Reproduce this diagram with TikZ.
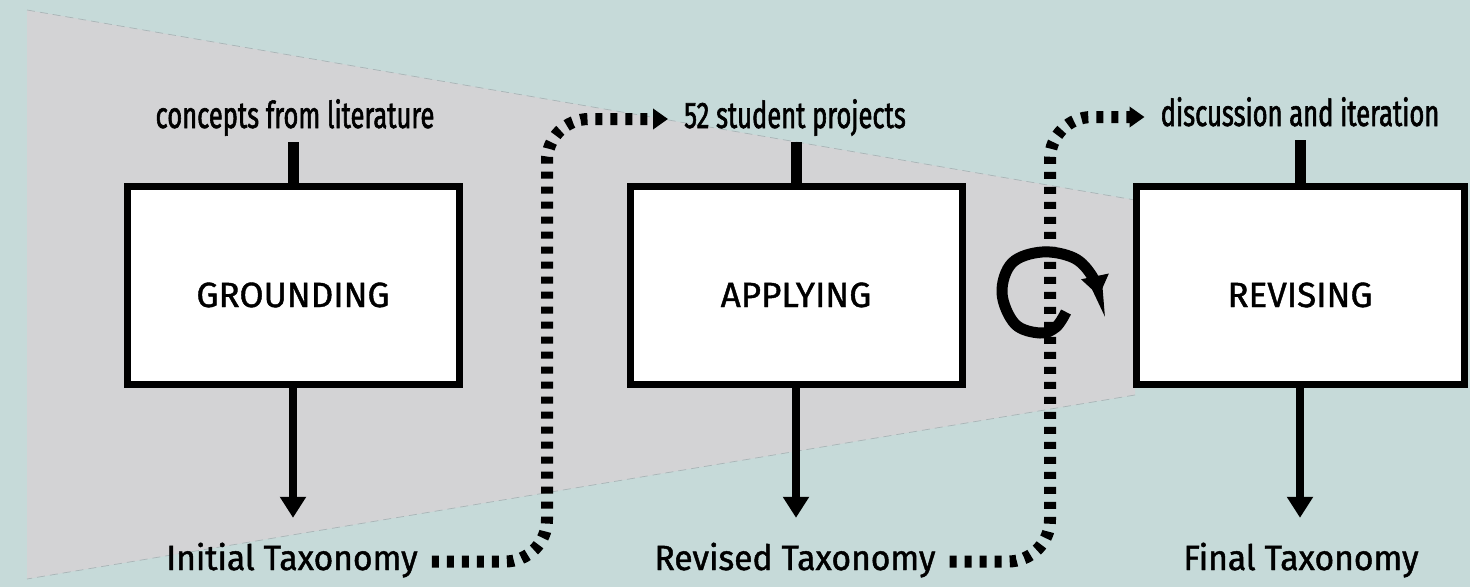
\documentclass[tikz,border=0pt]{standalone}
\usepackage{fontspec}
\setmainfont{Fira Sans}[FakeBold=1.2]
\newfontfamily\condfont{Fira Sans}[FakeStretch=0.69,FakeBold=1.6]
\newfontfamily\labfont{Fira Sans}[FakeStretch=0.96,FakeBold=1.3]
\newfontfamily\boxfont{Fira Sans}[FakeBold=1.2]
\usetikzlibrary{arrows.meta,calc}
\definecolor{bgteal}{HTML}{C6DAD9}
\definecolor{wedgegray}{HTML}{D3D3D5}
\definecolor{wedgeedge}{HTML}{A8B4B6}
\tikzset{
  stagebox/.style={draw=black, line width=7pt, fill=white, minimum width=332pt, minimum height=198pt, inner sep=0pt,
    text height=43pt, text depth=0pt, font=\boxfont\fontsize{35}{40}\selectfont},
  toplabel/.style={anchor=base, inner sep=0pt, text height=27pt, text depth=9pt, font=\condfont\fontsize{37}{40}\selectfont},
  botlabel/.style={anchor=base, inner sep=0pt, text height=26pt, text depth=9pt, font=\labfont\fontsize{35}{40}\selectfont},
  stub/.style={line width=11pt, shorten <=5pt},
  flow/.style={line width=8pt, -{Triangle[length=21pt,width=25pt]}},
  dotflow/.style={line width=12pt, dash pattern=on 7pt off 8pt, rounded corners=42pt, -{Triangle[length=15pt,width=20pt]}},
  cycle arrow/.style={line width=11pt, -{Triangle[length=20pt,width=27pt]}}
}
\begin{document}
\begin{tikzpicture}[x=1pt,y=-1pt]
\useasboundingbox (0,0) rectangle (1470,587);
\fill[bgteal] (0,0) rectangle (1470,587);
\fill[wedgegray] (27,10) -- (1135,200) -- (1135,395) -- (27,579) -- cycle;
\draw[wedgeedge, line width=0.7pt, dash pattern=on 8pt off 5pt] (27,10) -- (1135,200) (1135,395) -- (27,579);

% boxes
\node[stagebox] (g) at (293,285.5) {GROUNDING};
\node[stagebox] (a) at (796,285.5) {APPLYING};
\node[stagebox, minimum width=328pt] (r) at (1300,285.5) {REVISING};

% top labels
\node[toplabel] (lit) at (295,128) {concepts from literature};
\node[toplabel] (proj) at (795,128) {52 student projects};
\node[toplabel] (disc) at (1300,126) {discussion and iteration};

% bottom labels
\node[botlabel] (init) at (292,570) {Initial Taxonomy};
\node[botlabel] (rev) at (795,570) {Revised Taxonomy};
\node[botlabel] (fin) at (1301,570) {Final Taxonomy};

% arrow tip points above bottom labels
\coordinate (itip) at ([yshift=26pt]init.north);
\coordinate (rtip) at ([yshift=26pt]rev.north);
\coordinate (ftip) at ([yshift=26pt]fin.north);

% stubs
\draw[stub] (g.north |- lit.south) -- (g.north);
\draw[stub] (a.north |- proj.south) -- (a.north);
\draw[stub] (r.north |- disc.south) -- (r.north);

% down arrows
\draw[flow] (g.south) -- (g.south |- itip);
\draw[flow] (a.south) -- (a.south |- rtip);
\draw[flow] (r.south) -- (r.south |- ftip);

% dotted connectors
\coordinate (k1) at (547,340);
\coordinate (k2) at (1050,340);
\draw[dotflow] ([xshift=14pt]init.east) -| (k1) |- ([xshift=-16pt]proj.west);
\draw[dotflow] ([xshift=14pt]rev.east) -| (k2) |- ([xshift=-16pt]disc.west);

% cycle arrow
\draw[cycle arrow] plot[smooth, tension=0.6] coordinates {(1066,312) (1056,327) (1040,333) (1015,324) (1002,293) (1012,263) (1042,252) (1074,258) (1092,276) (1099,296)};
\end{tikzpicture}
\end{document}
